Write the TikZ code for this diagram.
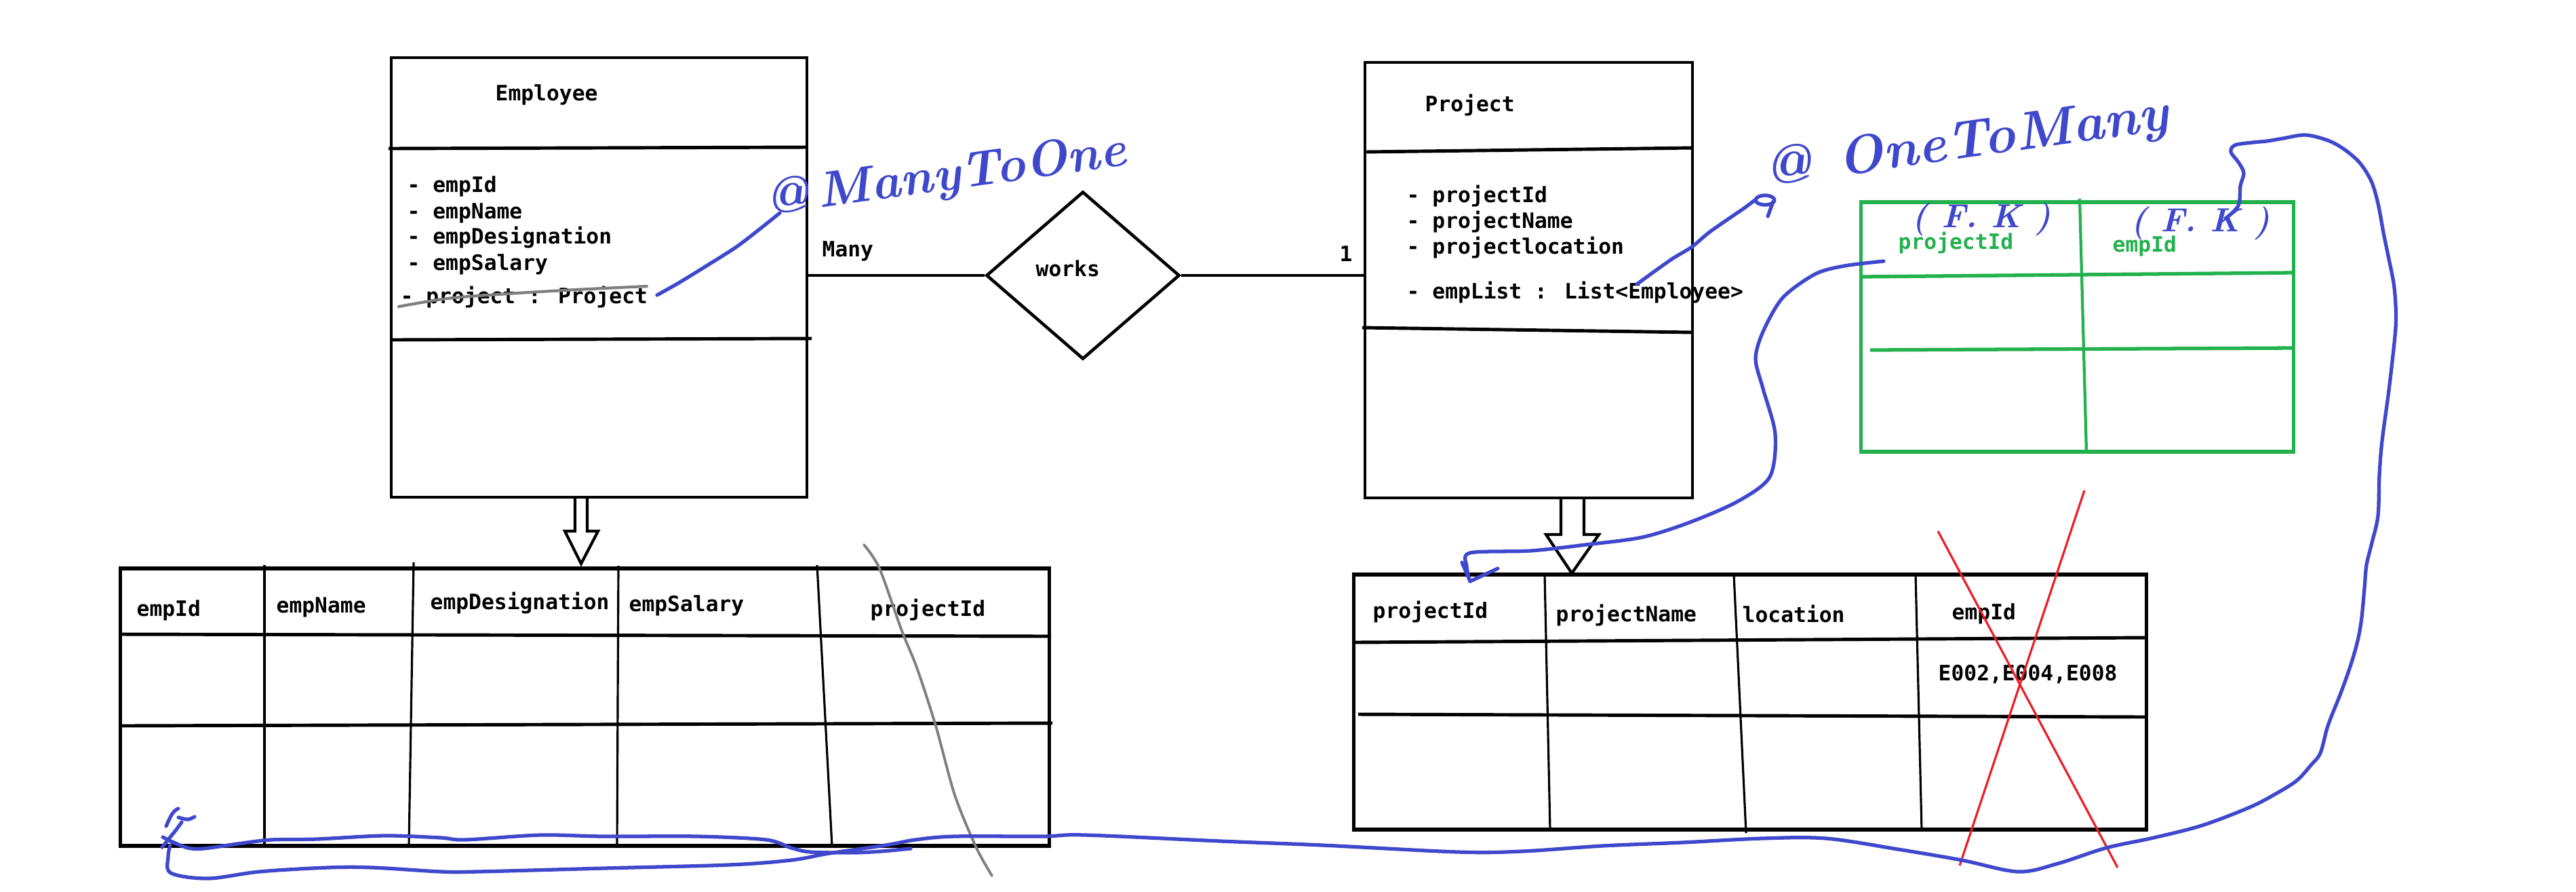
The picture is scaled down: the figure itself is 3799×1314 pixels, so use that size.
\documentclass[tikz,border=0pt]{standalone}
\usepackage{fontspec}
\newfontfamily\monof{DejaVu Sans Mono}
\usetikzlibrary{shapes.geometric}
\definecolor{penblue}{HTML}{3F48CC}
\definecolor{grn}{HTML}{22B14C}
\definecolor{redx}{HTML}{ED1C24}
\definecolor{grayline}{HTML}{7F7F7F}
\tikzset{
 umlbox/.style={draw, line width=1.3pt, inner sep=0pt},
 tbl/.style={draw, line width=1.6pt, inner sep=0pt},
 divider/.style={line width=1.4pt},
 colline/.style={line width=0.9pt},
 mono/.style={font=\monof\bfseries\fontsize{8.9}{10}\selectfont, inner sep=0pt, anchor=west, text height=1.4ex, text depth=0.35ex},
 penline/.style={draw=penblue, line width=1.5pt, line cap=round, line join=round},
 hand/.style={text=penblue, font=\bfseries\itshape\fontsize{21}{26}\selectfont, inner sep=0pt},
 fk/.style={text=penblue, font=\bfseries\itshape\fontsize{14}{16}\selectfont, inner sep=0pt},
 blockarrow/.style={line width=1.2pt, line join=miter},
}
\begin{document}
\begin{tikzpicture}[x=0.01cm,y=-0.01cm]
\useasboundingbox[fill=white] (0,0) rectangle (3799,1314);

% ---------- Employee class ----------
\node[umlbox, minimum width=6.13cm, minimum height=6.48cm] (emp) at (883.5,409) {};
\draw[divider] (573,219) -- (1190,217);
\draw[divider] (577,501) -- (1197,499);
\node[mono] (empT) at (730,141) {Employee};
\node[mono] (ea1) at (600,276) {- empId};
\node[mono] (ea2) at (600,315) {- empName};
\node[mono] (ea3) at (600,352) {- empDesignation};
\node[mono] (ea4) at (600,391) {- empSalary};
\node[mono] (ea5) at (590,440) {- project : Project};

% ---------- relationship ----------
\node[diamond, draw, line width=1.3pt, minimum width=2.85cm, minimum height=2.47cm, inner sep=0pt] (works) at (1597,406) {};
\node[mono] (worksT) at (1527,400) {works};
\draw[divider] (works.west -| emp.east) -- (works.west);
\node[mono] (many) at (1212,371) {Many};

% ---------- Project class ----------
\node[umlbox, minimum width=4.83cm, minimum height=6.42cm] (proj) at (2254.5,413) {};
\draw[divider] (2013,224) -- (2496,218);
\draw[divider] (2009,483) -- (2496,490);
\draw[divider] (works.east) -- (works.east -| proj.west);
\node[mono, anchor=center] (one) at (1985,378) {1};
\node[mono] (projT) at (2101,157) {Project};
\node[mono] (pa1) at (2074,291) {- projectId};
\node[mono] (pa2) at (2074,329) {- projectName};
\node[mono] (pa3) at (2074,367) {- projectlocation};
\node[mono] (pa4) at (2074,433) {- empList : List<Employee>};

% ---------- Employee table ----------
\node[tbl, minimum width=13.69cm, minimum height=4.09cm] (etab) at (862.5,1042.5) {};
\draw[divider] (178,935) -- (1550,938);
\draw[divider] (178,1070) -- (1552,1066);
\draw[colline] (390,833) -- (390,1247);
\draw[colline] (610,829) -- (603,1247);
\draw[colline] (912,834) -- (910,1247);
\draw[colline] (1205,833) -- (1227,1247);
\node[mono] (eh1) at (201,901) {empId};
\node[mono] (eh2) at (407,896) {empName};
\node[mono] (eh3) at (634,891) {empDesignation};
\node[mono] (eh4) at (927,894) {empSalary};
\node[mono] (eh5) at (1283,901) {projectId};

% ---------- Project table ----------
\node[tbl, minimum width=11.68cm, minimum height=3.76cm] (ptab) at (2581,1035) {};
\draw[divider] (1997,947) -- (3165,940);
\draw[divider] (2003,1053) -- (3165,1057);
\draw[colline] (2278,847) -- (2286,1223);
\draw[colline] (2557,847) -- (2575,1228);
\draw[colline] (2825,847) -- (2834,1223);
\node[mono] (ph1) at (2024,904) {projectId};
\node[mono] (ph2) at (2294,909) {projectName};
\node[mono] (ph3) at (2569,910) {location};
\node[mono] (ph4) at (2878,906) {empId};
\node[mono] (pv4) at (2858,996) {E002,E004,E008};

% ---------- join table (green) ----------
\node[draw=grn, line width=1.5pt, inner sep=0pt, minimum width=6.37cm, minimum height=3.68cm] (gtab) at (3063.5,482) {};
\draw[draw=grn, line width=1.5pt] (2745,408) -- (3382,402);
\draw[draw=grn, line width=1.5pt] (2758,516) -- (3384,513);
\draw[draw=grn, line width=1.2pt] (3067,293) -- (3077,668);
\node[mono, text=grn] (gh1) at (2799,360) {projectId};
\node[mono, text=grn] (gh2) at (3115,364) {empId};

% ---------- block arrows ----------
\coordinate (eArr) at (857,734);
\draw[blockarrow] (eArr) ++(-9,0) -- ++(0,49) -- ++(-15,0) -- (857,831) -- (882,783) -- (866,783) -- (866,734);
\coordinate (pArr) at (2319,734);
\draw[blockarrow] (pArr) ++(-17,0) -- ++(0,54) -- ++(-22,0) -- (2318,845) -- (2358,788) -- (2336,788) -- (2336,734);

% ---------- red cross ----------
\draw[redx, line width=0.9pt] (2858,783) -- (3123,1279);
\draw[redx, line width=0.9pt] (3074,723) -- (2890,1276);

% ---------- gray strike-throughs ----------
\draw[grayline, line width=1.2pt, line cap=round] plot[smooth] coordinates {(588,452) (660,440) (749,433) (850,427) (954,422)};
\draw[grayline, line width=1.1pt, line cap=round] plot[smooth] coordinates {(1274,803) (1297,838) (1330,930) (1352,984) (1380,1070) (1408,1172) (1440,1250) (1463,1291)};

% ---------- handwritten annotations ----------
\node[hand, rotate=8] (m2o) at (1395,262) {@\,ManyToOne};
\node[hand, rotate=8, font=\bfseries\itshape\fontsize{22.5}{28}\selectfont] (o2m) at (2900,213) {@\hspace{0.5em}OneToMany};
\node[fk] (fk1) at (2922,323) {( F. K )};
\node[fk] (fk2) at (3245,329) {( F. K )};

% leader to @ManyToOne
\draw[penline] plot[smooth] coordinates {(969,435) (1001,417) (1045,390) (1086,364) (1120,338) (1150,314)};
% leader to @OneToMany
\draw[penline] plot[smooth] coordinates {(2414,419) (2440,400) (2467,381) (2495,364) (2520,343) (2550,322) (2572,307) (2588,295)};
\draw[penline] (2603,295) ellipse [x radius=14, y radius=7];
\draw[penline] (2615,297) -- (2607,319);

% green projectId -> project table projectId
\draw[penline] plot[smooth] coordinates {(2778,385) (2720,392) (2677,404) (2629,439) (2600,489) (2589,529) (2600,573) (2618,640) (2610,703) (2563,739) (2492,770) (2422,792) (2339,803) (2257,812) (2168,815) (2163,835) (2168,857)};
\draw[penline] (2156,829) -- (2168,857) -- (2209,838);

% long curve from join-table empId down to the employee table
\draw[penline] plot[smooth, tension=0.55] coordinates {(3282,322) (3301,303) (3304,274) (3309,255) (3301,239) (3290,224) (3296,214) (3322,210) (3343,208) (3367,204) (3400,199) (3433,207) (3457,220) (3480,240) (3497,267) (3507,300) (3515,343) (3522,377) (3530,417) (3533,450) (3533,483) (3528,533) (3522,583) (3513,650) (3509,700) (3507,760) (3498,800) (3490,833) (3487,867) (3483,910) (3478,940) (3470,970) (3460,1000) (3450,1027) (3433,1070) (3422,1110) (3408,1128) (3388,1150) (3360,1168) (3318,1190) (3247,1217) (3176,1235) (3106,1250) (3035,1273) (2976,1285) (2893,1268) (2799,1252) (2693,1236) (2599,1236) (2481,1242) (2363,1247) (2245,1255) (2150,1256) (1950,1246) (1800,1240) (1600,1231) (1537,1233) (1408,1233) (1350,1238) (1306,1246) (1223,1258) (1167,1268) (1075,1275) (890,1280) (705,1285) (650,1285) (550,1279) (483,1279) (383,1285) (307,1295) (252,1287) (248,1263) (251,1246)};
\draw[penline] plot[smooth] coordinates {(252,1240) (277,1250) (300,1251) (350,1244) (400,1238) (467,1237) (567,1232) (650,1235) (686,1238) (797,1231) (890,1233) (1029,1233) (1130,1238) (1167,1250) (1195,1256) (1260,1257) (1300,1255) (1343,1251)};
% small mark at the end
\draw[penline] (239,1249) -- (260,1223) -- (268,1212);
\draw[penline] (240,1234) -- (257,1243);
\draw[penline] plot[smooth] coordinates {(245,1218) (252,1203) (258,1195) (263,1192)};
\draw[penline] plot[smooth] coordinates {(263,1205) (277,1208) (287,1204)};
\end{tikzpicture}
\end{document}
